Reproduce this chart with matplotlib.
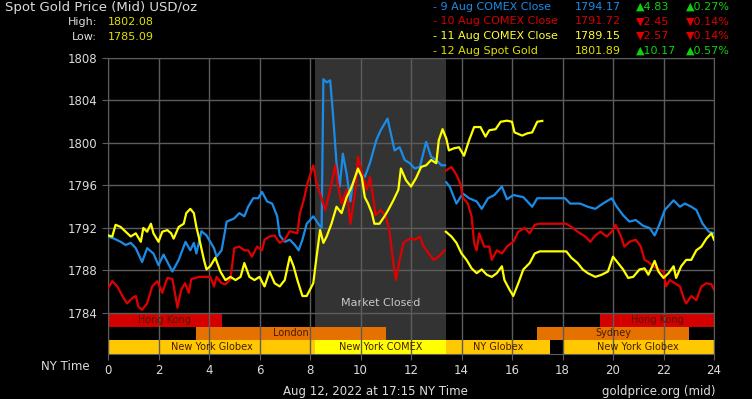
import matplotlib
matplotlib.use("Agg")
import matplotlib.pyplot as plt

# ---- data (NY time in hours, price USD/oz) ----
aug9_am_hours = [0, 0.24, 0.5, 0.7, 0.9, 1.1, 1.35, 1.55, 1.8, 2.0, 2.2, 2.55, 2.8, 3.07, 3.26, 3.4, 3.5,
                 3.7, 3.9, 4.2, 4.3, 4.5, 4.7, 5.0, 5.2, 5.4, 5.55, 5.75, 5.95, 6.1, 6.3, 6.5, 6.7, 6.8,
                 7.0, 7.2, 7.4, 7.55, 7.7, 7.87, 8.13, 8.33, 8.46, 8.53, 8.66, 8.8, 8.92, 9.05, 9.18, 9.3,
                 9.45, 9.6, 9.7, 9.9, 10.17, 10.37, 10.63, 10.8, 11.07, 11.2, 11.35, 11.55, 11.75, 11.95,
                 12.15, 12.35, 12.6, 12.8, 13.0, 13.2, 13.35]
aug9_am_price = [1791.2, 1791.0, 1790.7, 1790.4, 1790.6, 1790.1, 1788.8, 1790.1, 1789.6, 1788.5, 1789.5,
                 1787.9, 1789.0, 1790.7, 1789.9, 1790.6, 1789.6, 1791.7, 1791.3, 1790.1, 1789.3, 1789.9,
                 1792.6, 1792.9, 1793.4, 1793.1, 1794.0, 1794.8, 1794.8, 1795.4, 1794.5, 1794.3, 1793.1,
                 1791.3, 1790.7, 1790.9, 1790.4, 1789.9, 1790.9, 1792.4, 1793.1, 1792.4, 1792.0, 1806.0,
                 1805.7, 1805.9, 1802.4, 1798.1, 1795.9, 1799.0, 1797.1, 1794.5, 1796.2, 1797.4, 1796.8,
                 1798.1, 1800.3, 1801.2, 1802.3, 1800.9, 1799.3, 1799.6, 1798.4, 1798.1, 1797.6, 1797.75,
                 1800.1, 1798.7, 1798.4, 1797.9, 1797.9]
aug9_pm_hours = [13.4, 13.53, 13.8, 14.05, 14.3, 14.6, 14.8, 15.05, 15.3, 15.6, 15.8, 16.05, 16.45, 16.8,
                 17.0, 18.1, 18.3, 18.7, 19.0, 19.3, 19.6, 19.95, 20.15, 20.4, 20.65, 20.9, 21.2, 21.45,
                 21.65, 21.85, 22.05, 22.4, 22.65, 22.85, 23.1, 23.3, 23.55, 23.8, 24.0]
aug9_pm_price = [1796.3, 1795.9, 1794.3, 1795.25, 1794.8, 1794.5, 1793.8, 1794.8, 1795.1, 1795.9, 1794.7,
                 1795.1, 1794.9, 1794.0, 1794.8, 1794.8, 1794.3, 1794.3, 1794.0, 1793.8, 1794.3, 1794.8,
                 1794.0, 1793.2, 1792.6, 1792.75, 1792.2, 1792.0, 1791.3, 1792.4, 1793.7, 1794.6, 1794.0,
                 1794.3, 1794.0, 1793.7, 1792.4, 1791.65, 1791.5]

aug10_am_hours = [0, 0.17, 0.37, 0.57, 0.76, 0.96, 1.1, 1.2, 1.35, 1.55, 1.75, 1.95, 2.15, 2.35, 2.55,
                  2.65, 2.75, 2.9, 3.05, 3.2, 3.3, 3.6, 3.85, 4.05, 4.2, 4.3, 4.5, 4.65, 4.85, 5.0, 5.2,
                  5.4, 5.55, 5.7, 5.9, 6.1, 6.2, 6.4, 6.6, 6.8, 7.0, 7.2, 7.5, 7.6, 7.75, 7.9, 8.13, 8.26,
                  8.4, 8.6, 8.8, 9.0, 9.1, 9.25, 9.45, 9.6, 9.8, 9.9, 10.1, 10.25, 10.37, 10.5, 10.6,
                  10.8, 11.0, 11.15, 11.3, 11.4, 11.55, 11.7, 11.95, 12.15, 12.35, 12.5, 12.7, 12.9,
                  13.1, 13.33]
aug10_am_price = [1786.3, 1787.0, 1786.5, 1785.6, 1784.9, 1785.4, 1785.6, 1784.6, 1784.3, 1784.9, 1786.5,
                  1787.0, 1785.9, 1787.3, 1787.2, 1785.9, 1784.5, 1786.2, 1786.8, 1785.9, 1787.2, 1787.4,
                  1787.4, 1787.4, 1786.5, 1787.4, 1786.8, 1786.7, 1787.2, 1790.1, 1790.25, 1789.9,
                  1789.9, 1789.3, 1790.25, 1789.9, 1790.9, 1791.2, 1791.3, 1790.6, 1790.9, 1791.7,
                  1791.5, 1793.4, 1794.6, 1796.2, 1797.9, 1796.2, 1795.25, 1793.7, 1795.6, 1797.9,
                  1796.2, 1794.3, 1795.6, 1792.4, 1795.6, 1798.7, 1796.8, 1795.6, 1796.8, 1794.9,
                  1793.2, 1793.7, 1793.1, 1791.7, 1788.7, 1787.1, 1789.0, 1790.6, 1791.0, 1790.9,
                  1791.2, 1790.25, 1789.6, 1789.0, 1789.3, 1789.9]
aug10_pm_hours = [13.38, 13.6, 13.8, 13.95, 14.05, 14.25, 14.4, 14.5, 14.6, 14.7, 14.9, 15.1, 15.2, 15.4,
                  15.6, 15.8, 16.05, 16.25, 16.5, 16.7, 16.9, 17.1, 18.15, 18.35, 18.6, 18.9, 19.1,
                  19.3, 19.5, 19.75, 19.95, 20.1, 20.3, 20.45, 20.65, 20.9, 21.1, 21.25, 21.4, 21.6,
                  21.8, 22.0, 22.1, 22.25, 22.45, 22.65, 22.8, 22.9, 23.1, 23.3, 23.5, 23.7, 23.9, 24.0]
aug10_pm_price = [1797.4, 1797.75, 1797.0, 1796.2, 1794.9, 1794.3, 1793.1, 1790.6, 1789.9, 1791.5,
                  1790.25, 1790.25, 1789.0, 1789.9, 1789.6, 1790.25, 1790.7, 1791.65, 1792.0, 1791.5,
                  1792.3, 1792.4, 1792.4, 1792.1, 1791.65, 1791.2, 1790.7, 1791.3, 1791.65, 1791.2,
                  1791.65, 1792.3, 1791.3, 1790.25, 1790.7, 1790.9, 1790.25, 1789.0, 1788.8, 1788.4,
                  1788.1, 1787.9, 1786.5, 1787.1, 1786.8, 1786.5, 1785.4, 1784.9, 1785.6, 1785.2,
                  1786.5, 1786.8, 1786.7, 1786.2]

aug11_pm_hours = [13.38, 13.6, 13.8, 14.0, 14.2, 14.4, 14.6, 14.8, 15.0, 15.2, 15.4, 15.6, 15.7, 15.9,
                  16.05, 16.25, 16.45, 16.7, 16.9, 17.1, 18.15, 18.35, 18.6, 18.8, 19.0, 19.3, 19.55,
                  19.8, 20.0, 20.2, 20.4, 20.6, 20.8, 21.05, 21.25, 21.4, 21.5, 21.65, 21.8, 22.0,
                  22.2, 22.4, 22.5, 22.7, 22.9, 23.1, 23.3, 23.5, 23.7, 23.9, 24.0]
aug11_pm_price = [1791.65, 1791.2, 1790.6, 1789.6, 1789.0, 1788.2, 1787.75, 1788.1, 1787.6, 1787.4,
                  1787.75, 1788.4, 1787.1, 1786.2, 1785.6, 1786.8, 1788.1, 1788.7, 1789.6, 1789.8,
                  1789.8, 1789.2, 1788.7, 1788.1, 1787.75, 1787.4, 1787.6, 1787.9, 1789.3, 1788.7,
                  1788.1, 1787.3, 1787.4, 1788.1, 1788.2, 1787.6, 1788.1, 1788.9, 1787.9, 1787.3,
                  1787.75, 1788.4, 1787.3, 1788.4, 1789.0, 1789.0, 1789.9, 1790.25, 1791.0, 1791.5,
                  1790.9]

aug12_hours = [0, 0.17, 0.3, 0.5, 0.7, 0.9, 1.1, 1.3, 1.4, 1.55, 1.7, 1.8, 2.0, 2.15, 2.35, 2.5, 2.6,
               2.8, 3.0, 3.1, 3.26, 3.4, 3.5, 3.65, 3.8, 3.9, 4.05, 4.25, 4.45, 4.65, 4.85, 5.05, 5.25,
               5.4, 5.6, 5.8, 6.0, 6.2, 6.4, 6.6, 6.8, 7.0, 7.2, 7.35, 7.5, 7.7, 7.87, 8.13, 8.26, 8.4,
               8.53, 8.66, 8.85, 9.05, 9.25, 9.45, 9.6, 9.7, 9.9, 10.05, 10.17, 10.3, 10.45, 10.55,
               10.75, 10.95, 11.1, 11.3, 11.5, 11.6, 11.8, 12.0, 12.2, 12.4, 12.6, 12.8, 13.0, 13.1,
               13.25, 13.4, 13.5, 13.7, 13.9, 14.1, 14.3, 14.5, 14.75, 14.95, 15.1, 15.35, 15.55,
               15.8, 16.0, 16.1, 16.4, 16.6, 16.8, 17.0, 17.2]
aug12_price = [1791.3, 1791.2, 1792.3, 1792.1, 1791.65, 1791.2, 1791.5, 1790.7, 1792.0, 1791.65,
               1792.4, 1791.5, 1790.7, 1791.65, 1791.8, 1791.5, 1791.0, 1792.1, 1792.4, 1793.4,
               1793.8, 1793.4, 1792.1, 1790.6, 1789.0, 1788.1, 1788.4, 1789.2, 1787.9, 1787.1,
               1787.4, 1787.1, 1787.4, 1788.7, 1787.4, 1787.1, 1787.4, 1786.5, 1787.9, 1786.8,
               1786.5, 1787.1, 1789.3, 1788.4, 1787.1, 1785.6, 1785.6, 1786.8, 1789.3, 1791.8,
               1790.6, 1791.2, 1792.4, 1794.0, 1793.4, 1794.9, 1795.6, 1796.2, 1797.6, 1796.8,
               1794.9, 1794.3, 1793.4, 1792.4, 1792.4, 1793.1, 1793.7, 1794.6, 1795.6, 1797.6,
               1796.5, 1795.9, 1796.7, 1797.75, 1797.9, 1798.4, 1798.1, 1800.25, 1801.3, 1800.4,
               1799.3, 1799.5, 1799.6, 1798.8, 1800.25, 1801.5, 1801.5, 1800.6, 1801.2, 1801.3,
               1802.0, 1802.1, 1802.0, 1801.0, 1800.7, 1800.9, 1801.0, 1802.0, 1802.08]

# legend rows
legend_names = ["- 9 Aug COMEX Close", "- 10 Aug COMEX Close", "- 11 Aug COMEX Close", "- 12 Aug Spot Gold"]
legend_prices = ["1794.17", "1791.72", "1789.15", "1801.89"]
legend_changes = [4.83, -2.45, -2.57, 10.17]
legend_pcts = [0.27, -0.14, -0.14, 0.57]
legend_colors = ["#1a8ce8", "#d40000", "#ffff33", "#e0e000"]

# trading sessions: (row, start, end, label, colour)
session_rows = ["Hong Kong", "London", "New York"]
sessions = [
    (0, 0, 4.5, "Hong Kong", "#d40000"),
    (0, 19.5, 24, "Hong Kong", "#d40000"),
    (1, 3.5, 11, "London", "#e57200"),
    (1, 17, 23, "Sydney", "#e57200"),
    (2, 0, 8.2, "New York Globex", "#ffc800"),
    (2, 8.2, 13.38, "New York COMEX", "#ffff00"),
    (2, 13.38, 17.5, "NY Globex", "#ffc800"),
    (2, 18, 24, "New York Globex", "#ffc800"),
]
closed_start, closed_end = 8.2, 13.38
y_ticks = [1784, 1788, 1792, 1796, 1800, 1804, 1808]
x_ticks = list(range(0, 25, 2))

W, H = 752, 399
fig = plt.figure(figsize=(W / 100, H / 100), dpi=100, facecolor="black")
ax = fig.add_axes([108 / W, 1 - 354 / H, (714 - 108) / W, (354 - 58) / H], facecolor="black")

row_h = (1784 - 1780.14) / 3
y_bottom = 1780.14
ax.set_xlim(0, 24)
ax.set_ylim(y_bottom, 1808)

grid_c = "#5c5c5c"
txt_c = "#dcdcdc"

# market closed band
ax.axvspan(closed_start, closed_end, color="#333333", zorder=0, lw=0)
ax.text((closed_start + closed_end) / 2, 1784.95, "Market Closed", color="#c8c8d0",
        ha="center", va="center", fontsize=8, zorder=1)

# session bars
for row, s, e, label, col in sessions:
    y0 = 1784 - (row + 1) * row_h
    ax.barh(y0, e - s, left=s, height=row_h, align="edge", color=col, lw=0, zorder=1)
    ax.text((s + e) / 2, y0 + row_h / 2, label, color="#4a1a00", fontsize=7,
            ha="center", va="center", zorder=4)

# grid drawn over the bars, under the price lines
for h in x_ticks:
    ax.plot([h, h], [y_bottom, 1808], color=grid_c, lw=1, zorder=2)
for p in y_ticks:
    ax.plot([0, 24], [p, p], color=grid_c, lw=1, zorder=2)

# price lines
ax.plot(aug9_am_hours, aug9_am_price, color="#1a8ce8", lw=1.6, zorder=3)
ax.plot(aug9_pm_hours, aug9_pm_price, color="#1a8ce8", lw=1.6, zorder=3)
ax.plot(aug10_am_hours, aug10_am_price, color="#e00000", lw=1.6, zorder=3)
ax.plot(aug10_pm_hours, aug10_pm_price, color="#e00000", lw=1.6, zorder=3)
ax.plot(aug11_pm_hours, aug11_pm_price, color="#ffff00", lw=1.6, zorder=3)
ax.plot(aug12_hours, aug12_price, color="#ffff00", lw=1.6, zorder=3)

ax.set_yticks(y_ticks)
ax.set_xticks(x_ticks)
ax.tick_params(colors=grid_c, labelcolor=txt_c, labelsize=8.5, length=4)
ax.tick_params(axis="x", pad=3)
for sp in ax.spines.values():
    sp.set_color(grid_c)

def px(x, y):
    return x / W, 1 - y / H

fig.text(*px(5, 8), "Spot Gold Price (Mid) USD/oz", color=txt_c, fontsize=9.5, va="center")
fig.text(*px(97, 22), "High:", color=txt_c, fontsize=8, va="center", ha="right")
fig.text(*px(108, 22), "1802.08", color="#e0e000", fontsize=8, va="center")
fig.text(*px(97, 37), "Low:", color=txt_c, fontsize=8, va="center", ha="right")
fig.text(*px(108, 37), "1785.09", color="#e0e000", fontsize=8, va="center")

for i in range(4):
    y = 7 + i * 14.5
    fig.text(*px(433, y), legend_names[i], color=legend_colors[i], fontsize=8, va="center")
    fig.text(*px(621, y), legend_prices[i], color=legend_colors[i], fontsize=8, va="center", ha="right")
    up = legend_changes[i] >= 0
    c = "#10d010" if up else "#e00000"
    arrow = "\u25b2" if up else "\u25bc"
    fig.text(*px(636, y), f"{arrow}{abs(legend_changes[i]):.2f}", color=c, fontsize=8, va="center")
    fig.text(*px(686, y), f"{arrow}{abs(legend_pcts[i]):.2f}%", color=c, fontsize=8, va="center")

fig.text(*px(90, 367), "NY Time", color=txt_c, fontsize=8.5, va="center", ha="right")
fig.text(*px(375, 391), "Aug 12, 2022 at 17:15 NY Time", color=txt_c, fontsize=8.5, va="center", ha="center")
fig.text(*px(716, 391), "goldprice.org (mid)", color=txt_c, fontsize=8.5, va="center", ha="right")

fig.savefig("out.png", dpi=100, facecolor="black")
